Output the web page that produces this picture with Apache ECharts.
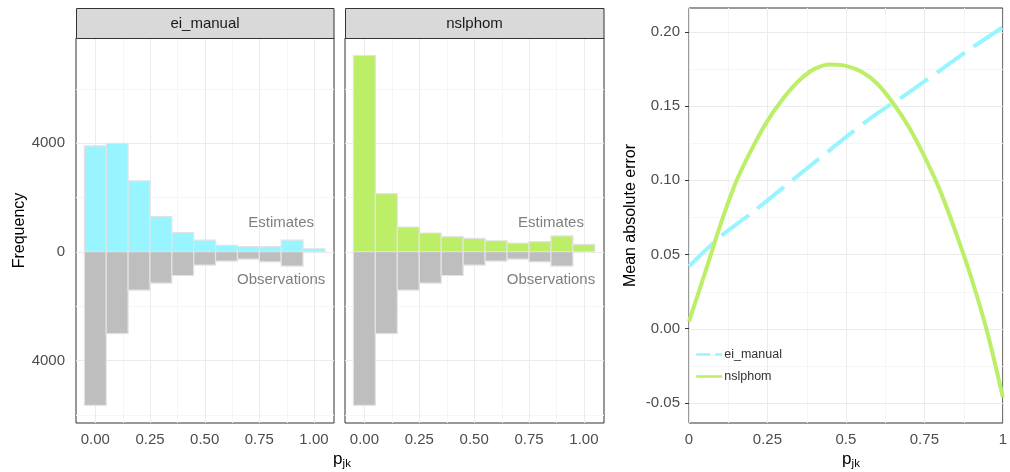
<!DOCTYPE html>
<html><head><meta charset="utf-8">
<script src="https://cdn.jsdelivr.net/npm/echarts@6/dist/echarts.min.js"></script>
<style>html,body{margin:0;padding:0;background:#fff}#c{width:1010px;height:472px}</style>
</head><body><div id="c"></div>
<script>
// ---------- data ----------
const binCenters = [0, 0.1, 0.2, 0.3, 0.4, 0.5, 0.6, 0.7, 0.8, 0.9, 1.0];
const binWidth = 0.1;
const eiEstimates  = [3900, 3990, 2610, 1290, 700, 430, 235, 185, 185, 430, 110];
const nslEstimates = [7225, 2140, 910, 690, 555, 490, 405, 320, 370, 580, 270];
const observations = [5660, 3015, 1415, 1155, 875, 490, 345, 270, 370, 530, 0];
const facetNames = ['ei_manual', 'nslphom'];
const annX = [0.85, 0.85];
const annY = [1050, -1050];
const annText = ['Estimates', 'Observations'];

const histXBreaks = [0, 0.25, 0.5, 0.75, 1];
const histXLabels = ['0.00', '0.25', '0.50', '0.75', '1.00'];
const histXMinor = [0.125, 0.375, 0.625, 0.875];
const histYBreaks = [-4000, 0, 4000];
const histYLabels = ['4000', '0', '4000'];
const histYMinor = [-6000, -2000, 2000, 6000];

const maeXNsl = [0, 0.05, 0.1, 0.15, 0.2, 0.25, 0.3, 0.35, 0.4, 0.45, 0.5, 0.55, 0.6, 0.65, 0.7, 0.75, 0.8, 0.85, 0.9, 0.95, 1.0];
const maeNsl  = [0.005, 0.037, 0.070, 0.099, 0.121, 0.140, 0.155, 0.167, 0.175, 0.178, 0.177, 0.173, 0.165, 0.152, 0.136, 0.116, 0.093, 0.065, 0.034, -0.002, -0.046];
const maeXEi = [0, 0.1, 0.2, 0.3, 0.4, 0.5, 0.6, 0.7, 0.8, 0.9, 1.0];
const maeEi  = [0.042, 0.062, 0.078, 0.095, 0.112, 0.129, 0.145, 0.159, 0.174, 0.189, 0.203];
const maeSeriesNames = ['ei_manual', 'nslphom'];

const maeXBreaks = [0, 0.25, 0.5, 0.75, 1];
const maeXLabels = ['0', '0.25', '0.5', '0.75', '1'];
const maeXMinor = [0.125, 0.375, 0.625, 0.875];
const maeYBreaks = [-0.05, 0, 0.05, 0.1, 0.15, 0.2];
const maeYLabels = ['-0.05', '0.00', '0.05', '0.10', '0.15', '0.20'];
const maeYMinor = [-0.025, 0.025, 0.075, 0.125, 0.175];

// ---------- styles ----------
const FONT = '"Liberation Sans", Arial, sans-serif';
const COL_EI = '#98F5FF', COL_NSL = '#BCEE68', COL_OBS = '#BEBEBE';
const HIST_X = [-0.0883, 1.0916], HIST_Y = [-6306, 7869];
const MAE_X = [0, 1], MAE_Y = [-0.0635, 0.216];

function lookup(breaks, labels) {
  return function (v) {
    let best = 0;
    for (let i = 1; i < breaks.length; i++) if (Math.abs(breaks[i] - v) < Math.abs(breaks[best] - v)) best = i;
    return labels[best];
  };
}
function gridData(xMaj, xMin, yMaj, yMin) {
  const d = [];
  xMin.forEach(v => d.push([v, 0, 0, 0]));
  yMin.forEach(v => d.push([0.5, v, 0, 1]));
  xMaj.forEach(v => d.push([v, 0, 1, 0]));
  yMaj.forEach(v => d.push([0.5, v, 1, 1]));
  return d;
}
function renderGrid(params, api) {
  const cs = params.coordSys;
  const major = api.value(2), orient = api.value(3);
  const p = api.coord([api.value(0), api.value(1)]);
  const color = major ? '#EBEBEB' : '#F5F5F5';
  let shape;
  if (orient === 0) {
    const x = Math.round(p[0]) + 0.5;
    shape = { x1: x, y1: cs.y, x2: x, y2: cs.y + cs.height };
  } else {
    const y = Math.round(p[1]) + 0.5;
    shape = { x1: cs.x, y1: y, x2: cs.x + cs.width, y2: y };
  }
  return { type: 'line', shape, style: { stroke: color, lineWidth: 1 }, silent: true };
}
function renderBar(params, api) {
  const c = api.value(0), h = api.value(1);
  if (h === 0) return null;
  const p1 = api.coord([c - binWidth / 2, h]);
  const p2 = api.coord([c + binWidth / 2, 0]);
  return {
    type: 'rect',
    shape: { x: p1[0], y: Math.min(p1[1], p2[1]), width: p2[0] - p1[0], height: Math.abs(p2[1] - p1[1]) },
    style: { fill: api.visual('color'), stroke: '#E3E3E3', lineWidth: 1.2 }
  };
}
function renderAnn(params, api) {
  const p = api.coord([api.value(0), api.value(1)]);
  return {
    type: 'text', x: p[0], y: p[1],
    style: { text: annText[params.dataIndex], fill: '#7F7F7F', fontSize: 15, fontFamily: FONT, align: 'center', verticalAlign: 'middle' }
  };
}

const grids = [
  { left: 76, top: 38, width: 258, height: 385 },
  { left: 345, top: 38, width: 259, height: 385 },
  { left: 689, top: 8, width: 320, height: 415 }
].map(g => Object.assign(g, { show: true, borderColor: '#333333', borderWidth: 1, backgroundColor: '#fff' }));

const tickStyle = { length: 4, lineStyle: { color: '#333333', width: 1 } };
const labelStyle = { color: '#4D4D4D', fontSize: 15, fontFamily: FONT };

function histXAxis(i) {
  return {
    type: 'value', gridIndex: i, min: HIST_X[0], max: HIST_X[1],
    axisLine: { show: false }, splitLine: { show: false },
    axisTick: Object.assign({ show: true, customValues: histXBreaks }, tickStyle),
    axisLabel: Object.assign({ customValues: histXBreaks, formatter: lookup(histXBreaks, histXLabels), margin: 9 }, labelStyle)
  };
}
function histYAxis(i) {
  const ax = {
    type: 'value', gridIndex: i, min: HIST_Y[0], max: HIST_Y[1],
    axisLine: { show: false }, splitLine: { show: false },
    axisTick: Object.assign({ show: i === 0, customValues: histYBreaks }, tickStyle),
    axisLabel: Object.assign({ show: i === 0, customValues: histYBreaks, formatter: lookup(histYBreaks, histYLabels), margin: 11 }, labelStyle)
  };
  if (i === 0) {
    ax.name = 'Frequency'; ax.nameLocation = 'middle'; ax.nameGap = 48;
    ax.nameTextStyle = { color: '#000', fontSize: 16, fontFamily: FONT };
  }
  return ax;
}

const series = [];
[eiEstimates, nslEstimates].forEach((est, i) => {
  series.push({ type: 'custom', name: 'grid' + i, xAxisIndex: i, yAxisIndex: i, z: 1, silent: true, renderItem: renderGrid,
    data: gridData(histXBreaks, histXMinor, histYBreaks, histYMinor) });
  series.push({ type: 'custom', name: facetNames[i] + ' estimates', xAxisIndex: i, yAxisIndex: i, z: 2, silent: true,
    itemStyle: { color: i === 0 ? COL_EI : COL_NSL }, renderItem: renderBar,
    data: binCenters.map((c, k) => [c, est[k]]) });
  series.push({ type: 'custom', name: facetNames[i] + ' observations', xAxisIndex: i, yAxisIndex: i, z: 2, silent: true,
    itemStyle: { color: COL_OBS }, renderItem: renderBar,
    data: binCenters.map((c, k) => [c, -observations[k]]) });
  series.push({ type: 'custom', name: 'ann' + i, xAxisIndex: i, yAxisIndex: i, z: 3, silent: true, renderItem: renderAnn,
    data: annX.map((x, k) => [x, annY[k]]) });
});
series.push({ type: 'custom', name: 'grid2', xAxisIndex: 2, yAxisIndex: 2, z: 1, silent: true, renderItem: renderGrid,
  data: gridData(maeXBreaks, maeXMinor, maeYBreaks, maeYMinor) });
series.push({ type: 'line', name: maeSeriesNames[0], xAxisIndex: 2, yAxisIndex: 2, z: 3, symbol: 'none', smooth: 0.3, silent: true,
  itemStyle: { color: COL_EI }, lineStyle: { color: COL_EI, width: 4, type: [34, 11], cap: 'butt' },
  data: maeXEi.map((x, k) => [x, maeEi[k]]) });
series.push({ type: 'line', name: maeSeriesNames[1], xAxisIndex: 2, yAxisIndex: 2, z: 4, symbol: 'none', smooth: 0.3, silent: true,
  itemStyle: { color: COL_NSL }, lineStyle: { color: COL_NSL, width: 4 },
  data: maeXNsl.map((x, k) => [x, maeNsl[k]]) });

const subRich = {
  p: { fontSize: 17, fontFamily: FONT, fill: '#000', color: '#000', verticalAlign: 'bottom', lineHeight: 18, padding: [0, 0, 2, 0] },
  s: { fontSize: 11.5, fontFamily: FONT, fill: '#000', color: '#000', verticalAlign: 'bottom', lineHeight: 12 }
};
const hiddenSymbol = { color: 'rgba(0,0,0,0)', borderWidth: 0, opacity: 0 };

const option = {
  animation: false,
  backgroundColor: '#fff',
  textStyle: { fontFamily: FONT },
  grid: grids,
  xAxis: [histXAxis(0), histXAxis(1), {
    type: 'value', gridIndex: 2, min: MAE_X[0], max: MAE_X[1],
    axisLine: { show: false }, splitLine: { show: false },
    axisTick: Object.assign({ show: true, customValues: maeXBreaks }, tickStyle),
    axisLabel: Object.assign({ customValues: maeXBreaks, formatter: lookup(maeXBreaks, maeXLabels), margin: 9 }, labelStyle)
  }],
  yAxis: [histYAxis(0), histYAxis(1), {
    type: 'value', gridIndex: 2, min: MAE_Y[0], max: MAE_Y[1],
    axisLine: { show: false }, splitLine: { show: false },
    axisTick: Object.assign({ show: true, customValues: maeYBreaks }, tickStyle),
    axisLabel: Object.assign({ customValues: maeYBreaks, formatter: lookup(maeYBreaks, maeYLabels), margin: 9 }, labelStyle),
    name: 'Mean absolute error', nameLocation: 'middle', nameGap: 50,
    nameTextStyle: { color: '#000', fontSize: 16, fontFamily: FONT }
  }],
  legend: {
    left: 695, top: 348, orient: 'vertical', padding: 0,
    itemWidth: 26, itemHeight: 12, itemGap: 9,
    textStyle: { color: '#333', fontSize: 12.5, fontFamily: FONT, padding: [0, 0, 0, -3] },
    data: [
      { name: maeSeriesNames[0], itemStyle: hiddenSymbol, lineStyle: { width: 2.5, type: [14, 5], color: COL_EI } },
      { name: maeSeriesNames[1], itemStyle: hiddenSymbol, lineStyle: { width: 2.5, color: COL_NSL } }
    ]
  },
  graphic: [
    { type: 'rect', z: 10, shape: { x: 76.5, y: 8.5, width: 257.5, height: 30 }, style: { fill: '#D9D9D9', stroke: '#333333', lineWidth: 1 } },
    { type: 'text', z: 11, x: 205, y: 23.5, style: { text: facetNames[0], fill: '#1A1A1A', fontSize: 15, fontFamily: FONT, align: 'center', verticalAlign: 'middle' } },
    { type: 'rect', z: 10, shape: { x: 345.5, y: 8.5, width: 258.5, height: 30 }, style: { fill: '#D9D9D9', stroke: '#333333', lineWidth: 1 } },
    { type: 'text', z: 11, x: 474.5, y: 23.5, style: { text: facetNames[1], fill: '#1A1A1A', fontSize: 15, fontFamily: FONT, align: 'center', verticalAlign: 'middle' } },
    { type: 'text', z: 11, x: 342, y: 461, style: { text: '{p|p}{s|jk}', rich: subRich, align: 'center', verticalAlign: 'middle', fill: '#000' } },
    { type: 'text', z: 11, x: 851, y: 461, style: { text: '{p|p}{s|jk}', rich: subRich, align: 'center', verticalAlign: 'middle', fill: '#000' } }
  ],
  series
};

const chart = echarts.init(document.getElementById('c'), null, { renderer: 'canvas' });
chart.setOption(option);
</script>
</body></html>
